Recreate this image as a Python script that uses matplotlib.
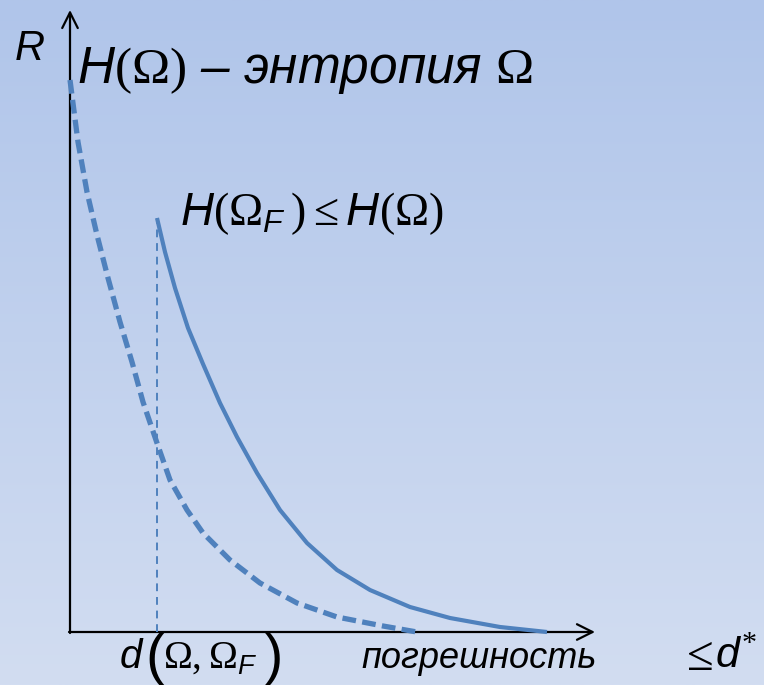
import matplotlib
matplotlib.use("Agg")
import matplotlib.pyplot as plt
import numpy as np

plt.rcParams['font.family'] = ['Liberation Sans', 'DejaVu Sans']
plt.rcParams['mathtext.fontset'] = 'custom'
plt.rcParams['mathtext.rm'] = 'Liberation Serif'
plt.rcParams['mathtext.it'] = 'Liberation Sans:italic'
plt.rcParams['mathtext.sf'] = 'Liberation Sans'

# curves: full alphabet (dashed) and reduced alphabet (solid)
err_full = [0.00, 0.08, 0.17, 0.27, 0.38, 0.50, 0.62, 0.73, 0.87, 1.00,
            1.17, 1.33, 1.60, 1.90, 2.27, 2.67, 3.13, 3.47]
rate_full = [5.52, 4.90, 4.40, 3.97, 3.54, 3.10, 2.70, 2.30, 1.89, 1.52,
             1.22, 0.99, 0.72, 0.49, 0.29, 0.15, 0.06, 0.00]

err_red = [0.87, 0.95, 1.05, 1.18, 1.33, 1.50, 1.67, 1.87, 2.10, 2.37,
           2.67, 3.00, 3.40, 3.80, 4.30, 4.77]
rate_red = [4.14, 3.80, 3.44, 3.04, 2.68, 2.29, 1.95, 1.59, 1.22, 0.89,
            0.62, 0.42, 0.25, 0.14, 0.05, 0.00]

d_marker = 0.87
x_axis_end = 5.25
y_axis_end = 6.22

blue = '#4f81bd'

fig = plt.figure(figsize=(7.64, 6.85), dpi=100)
ax = fig.add_axes([0, 0, 1, 1])
xlim = (-0.70, 6.94)
ylim = (-0.53, 6.32)
ax.set_xlim(*xlim)
ax.set_ylim(*ylim)
ax.axis('off')

# background gradient (top darker blue -> bottom lighter)
top = np.array([176, 197, 234]) / 255
bot = np.array([210, 221, 241]) / 255
t = np.linspace(0, 1, 256)[:, None]
grad = (top[None, :] * (1 - t) + bot[None, :] * t)[:, None, :]
ax.imshow(grad, extent=[xlim[0], xlim[1], ylim[0], ylim[1]], aspect='auto',
          origin='upper', zorder=0)

# axes with arrows
arr = dict(arrowstyle='->', lw=1.6, color='black', mutation_scale=28,
           shrinkA=0, shrinkB=0)
ax.annotate('', xy=(x_axis_end, 0), xytext=(-0.01, 0), arrowprops=arr, zorder=2)
ax.annotate('', xy=(0, y_axis_end), xytext=(0, -0.01), arrowprops=arr, zorder=2)

ax.plot(err_full, rate_full, color=blue, lw=3.8, dashes=(2.6, 1.2),
        dash_capstyle='butt', dash_joinstyle='round', zorder=3)
ax.plot(err_red, rate_red, color=blue, lw=3.0, solid_joinstyle='round',
        solid_capstyle='butt', zorder=3)
ax.plot([d_marker, d_marker], [0, rate_red[0]], color=blue, lw=1.4,
        dashes=(4, 3), zorder=3)

# labels
ax.text(-0.55, 5.72, 'R', fontsize=30, fontstyle='italic', zorder=4)
ax.text(0.07, 5.49, r'$H(\Omega)$ – энтропия $\Omega$', fontsize=37,
        fontstyle='italic', zorder=4)
ax.text(1.10, 4.07, r'$H(\Omega_F\,) \leq H(\Omega)$', fontsize=33, zorder=4)

base = -0.36
ax.text(0.50, base, 'd', fontsize=29, fontstyle='italic', zorder=4)
ax.text(0.75, base - 0.06, '(', fontsize=42, zorder=4)
ax.text(0.93, base, r'$\Omega,\Omega_F$', fontsize=28, zorder=4)
ax.text(1.94, base - 0.06, ')', fontsize=42, zorder=4)

ax.text(2.91, base, 'погрешность', fontsize=26, fontstyle='italic', zorder=4)
ax.text(6.08, base - 0.02, r'$\leq$', fontsize=35, zorder=4)
ax.text(6.45, base, r'$d^{*}$', fontsize=31, zorder=4)

fig.savefig('out.png', dpi=100)
